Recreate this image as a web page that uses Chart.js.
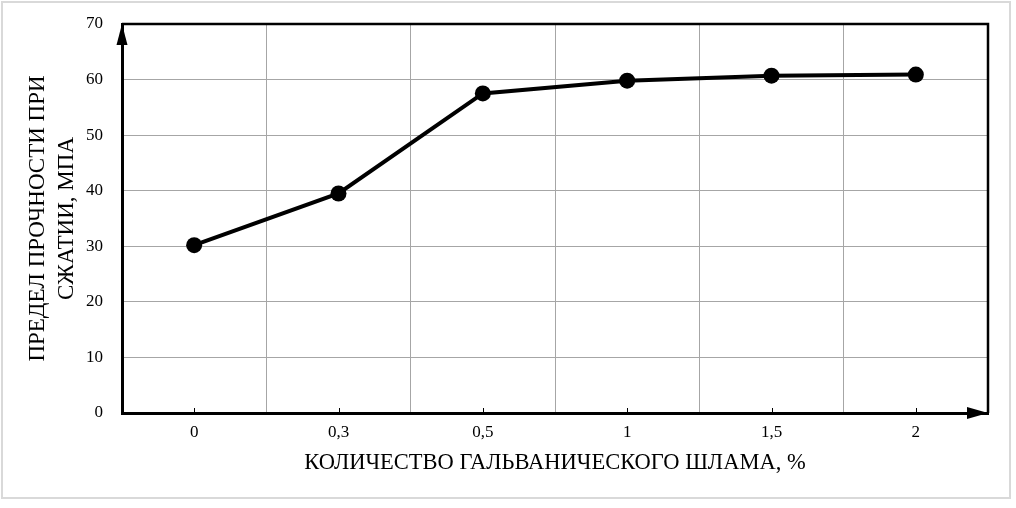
<!DOCTYPE html>
<html>
<head>
<meta charset="utf-8">
<script src="https://cdn.jsdelivr.net/npm/chart.js@4"></script>
<style>
  html, body { margin: 0; padding: 0; background: #fff; }
  #wrap { position: relative; width: 1016px; height: 508px; }
  #frame {
    position: absolute; left: 1px; top: 1px; width: 1006px; height: 494px;
    border: 2px solid #d9d9d9; pointer-events: none;
  }
</style>
</head>
<body>
<div id="wrap">
  <canvas id="chart" width="1016" height="508"></canvas>
  <div id="frame"></div>
</div>
<script>
const categories = ['0', '0,3', '0,5', '1', '1,5', '2'];
const strength = [30.2, 39.5, 57.5, 59.8, 60.7, 60.9];
const yMin = 0;
const yMax = 70;
const yStep = 10;
const xTitle = 'КОЛИЧЕСТВО ГАЛЬВАНИЧЕСКОГО ШЛАМА, %';
const yTitle = ['ПРЕДЕЛ ПРОЧНОСТИ ПРИ', 'СЖАТИИ, МПА'];

const serif = 'Liberation Serif, Times New Roman, serif';

// frame on top/right, axis arrows and small inner ticks on x axis
const decorations = {
  id: 'decorations',
  afterDatasetsDraw(chart) {
    const { ctx, chartArea: a, scales } = chart;
    ctx.save();
    ctx.strokeStyle = '#000';
    ctx.fillStyle = '#000';
    ctx.lineWidth = 2.5;
    ctx.beginPath();
    ctx.moveTo(a.left, a.top);
    ctx.lineTo(a.right, a.top);
    ctx.lineTo(a.right, a.bottom);
    ctx.stroke();

    // short ticks above the x axis at category centres
    ctx.lineWidth = 1;
    scales.x.ticks.forEach((t, i) => {
      const px = Math.round(scales.x.getPixelForTick(i)) + 0.5;
      ctx.beginPath();
      ctx.moveTo(px, a.bottom);
      ctx.lineTo(px, a.bottom - 5);
      ctx.stroke();
    });

    // arrow heads
    ctx.beginPath();
    ctx.moveTo(a.left, a.top);
    ctx.lineTo(a.left - 5.5, a.top + 21);
    ctx.lineTo(a.left + 5.5, a.top + 21);
    ctx.closePath();
    ctx.fill();

    ctx.beginPath();
    ctx.moveTo(a.right, a.bottom);
    ctx.lineTo(a.right - 21, a.bottom - 6);
    ctx.lineTo(a.right - 21, a.bottom + 6);
    ctx.closePath();
    ctx.fill();
    ctx.restore();
  }
};

new Chart(document.getElementById('chart'), {
  type: 'line',
  data: {
    labels: categories,
    datasets: [{
      data: strength,
      borderColor: '#000',
      backgroundColor: '#000',
      borderWidth: 4,
      pointRadius: 8,
      pointHoverRadius: 8,
      pointBackgroundColor: '#000',
      pointBorderWidth: 0,
      tension: 0,
      fill: false
    }]
  },
  options: {
    responsive: false,
    animation: false,
    events: [],
    layout: { padding: { top: 24, right: 28, left: 0, bottom: 0 } },
    plugins: {
      legend: { display: false },
      tooltip: { enabled: false }
    },
    scales: {
      x: {
        type: 'category',
        offset: true,
        afterFit(scale) { scale.height = 95; },
        grid: { offset: true, color: '#a6a6a6', lineWidth: 1, drawTicks: false },
        border: { display: true, color: '#000', width: 3 },
        ticks: { color: '#000', padding: 9, font: { family: serif, size: 17 }, maxRotation: 0 },
        title: {
          display: true, text: xTitle, color: '#000',
          font: { family: serif, size: 22.5 },
          padding: { top: 0, bottom: 31 }
        }
      },
      y: {
        min: yMin,
        max: yMax,
        afterFit(scale) {
          scale.width = 122;
          scale.paddingTop = 0;
          scale.paddingBottom = 0;
        },
        grid: { color: '#a6a6a6', lineWidth: 1, drawTicks: false },
        border: { display: true, color: '#000', width: 3 },
        ticks: { stepSize: yStep, color: '#000', padding: 19, font: { family: serif, size: 17 } },
        title: {
          display: true, text: yTitle, color: '#000',
          font: { family: serif, size: 23, lineHeight: 1.25 },
          padding: { top: 24, bottom: 0 }
        }
      }
    }
  },
  plugins: [decorations]
});
</script>
</body>
</html>
